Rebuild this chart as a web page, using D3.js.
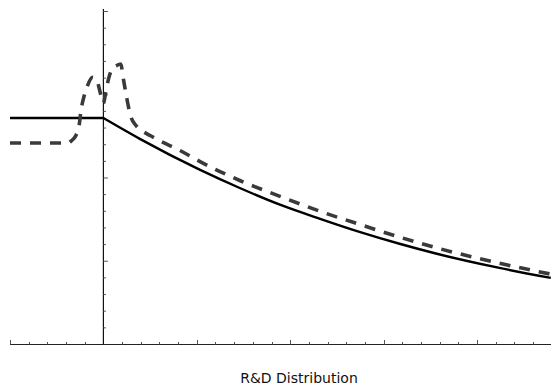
<!DOCTYPE html>
<html>
<head>
<meta charset="utf-8">
<script src="https://cdn.jsdelivr.net/npm/d3@7"></script>
<style>
  body { margin: 0; background: #fff; }
  svg { display: block; }
</style>
</head>
<body>
<div id="chart"></div>
<script>
// solid curve (x, y)
const solidX = [-1, 0, 0.39, 1.03, 1.46, 1.89, 2.32, 2.75, 3.17, 3.57, 4.24, 4.79];
const solidY = [2.72, 2.72, 2.47, 2.10, 1.88, 1.68, 1.51, 1.35, 1.21, 1.09, 0.92, 0.80];

// dashed curve
const dashX = [-1, -0.38, -0.34, -0.3, -0.26, -0.24, -0.21, -0.17, -0.115, -0.07, -0.03, 0, 0.025, 0.057, 0.1, 0.14, 0.185, 0.217, 0.25, 0.29, 0.35, 0.41, 0.5, 0.6, 0.82, 1.03, 1.46, 1.89, 2.32, 2.75, 3.17, 3.57, 4.03, 4.49, 4.79];
const dashY = [2.42, 2.42, 2.45, 2.5, 2.63, 2.81, 2.97, 3.11, 3.21, 3.17, 3.01, 2.9, 3.03, 3.2, 3.32, 3.35, 3.37, 3.17, 2.96, 2.75, 2.63, 2.57, 2.51, 2.45, 2.33, 2.2, 1.97, 1.78, 1.6, 1.44, 1.29, 1.16, 1.03, 0.915, 0.845];

const xMajor = [-1, 1, 2, 3, 4];
const yMajor = [1, 2, 3, 4];
const xLabel = "R&D Distribution";

const W = 551, H = 390;
const svg = d3.select("#chart").append("svg")
  .attr("width", W).attr("height", H);

const x = d3.scaleLinear().domain([-1, 4.79]).range([10, 550.8]);
const y = d3.scaleLinear().domain([0, 4.03]).range([344.5, 9]);

// minor ticks every 0.2
const xMinor = d3.range(-1, 4.8, 0.2).filter(v => Math.abs(v) > 1e-6);
const yMinor = d3.range(0.2, 4.03, 0.2);

// x axis
svg.append("line")
  .attr("x1", x(-1)).attr("x2", W)
  .attr("y1", y(0)).attr("y2", y(0))
  .attr("stroke", "#222").attr("stroke-width", 1);

svg.selectAll(".xt")
  .data(xMinor)
  .enter().append("line")
  .attr("x1", d => Math.round(x(d)) + 0.5).attr("x2", d => Math.round(x(d)) + 0.5)
  .attr("y1", y(0))
  .attr("y2", d => y(0) - (xMajor.some(m => Math.abs(m - d) < 1e-6) ? 4.5 : 2.5))
  .attr("stroke", "#555").attr("stroke-width", 1);

// y axis
svg.append("line")
  .attr("x1", x(0)).attr("x2", x(0))
  .attr("y1", y(4.03)).attr("y2", y(0))
  .attr("stroke", "#111").attr("stroke-width", 1.2);

svg.selectAll(".yt")
  .data(yMinor)
  .enter().append("line")
  .attr("x1", x(0))
  .attr("x2", d => x(0) + (yMajor.some(m => Math.abs(m - d) < 1e-6) ? 4.5 : 2.5))
  .attr("y1", d => y(d)).attr("y2", d => y(d))
  .attr("stroke", "#555").attr("stroke-width", 1);

const pts = d3.zip(solidX, solidY);
const flat = pts.filter(d => d[0] <= 0);
const decay = pts.filter(d => d[0] >= 0);

// solid curve: flat part, then smooth decay from the kink at 0
svg.append("path")
  .datum(flat)
  .attr("fill", "none")
  .attr("stroke", "#000")
  .attr("stroke-width", 2.4)
  .attr("d", d3.line().x(d => x(d[0])).y(d => y(d[1])));

svg.append("path")
  .datum(decay)
  .attr("fill", "none")
  .attr("stroke", "#000")
  .attr("stroke-width", 2.4)
  .attr("stroke-linejoin", "round")
  .attr("d", d3.line().x(d => x(d[0])).y(d => y(d[1])).curve(d3.curveMonotoneX));

// dashed curve
svg.append("path")
  .datum(d3.zip(dashX, dashY))
  .attr("fill", "none")
  .attr("stroke", "#3a3a3a")
  .attr("stroke-width", 3.6)
  .attr("stroke-dasharray", "11,9")
  .attr("d", d3.line().x(d => x(d[0])).y(d => y(d[1])).curve(d3.curveMonotoneX));

// x label
svg.append("text")
  .attr("x", 299).attr("y", 383)
  .attr("text-anchor", "middle")
  .attr("font-family", "DejaVu Sans, sans-serif")
  .attr("font-size", 14)
  .attr("fill", "#111")
  .text(xLabel);
</script>
</body>
</html>
